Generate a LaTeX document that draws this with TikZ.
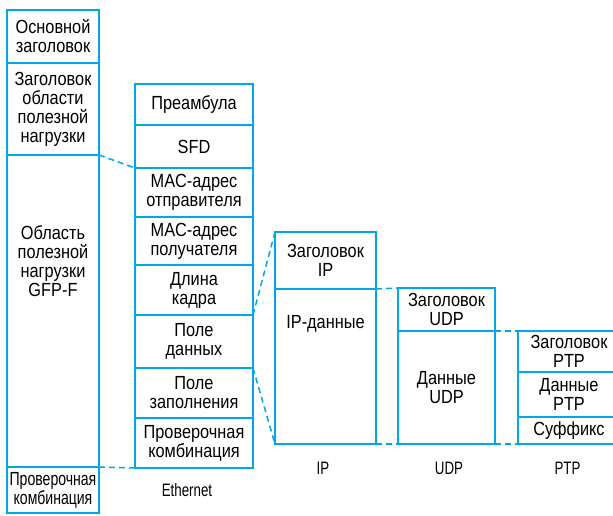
\documentclass[tikz,border=0pt]{standalone}
\usepackage{fontspec}
\setmainfont[FakeStretch=0.86]{Liberation Sans}
\newfontfamily\narrowfont[FakeStretch=0.74]{Liberation Sans}
\usetikzlibrary{positioning}
\definecolor{framecyan}{RGB}{0,168,232}

\begin{document}
\begin{tikzpicture}[
    x=1pt, y=1pt, font=\fontsize{19}{19}\selectfont,
    field/.style ={draw=framecyan, line width=1.7pt, outer sep=0pt, inner sep=0pt, align=center, anchor=north},
    gfp/.style   ={field, minimum width=92pt},
    eth/.style   ={field, minimum width=118pt},
    ipf/.style   ={field, minimum width=101pt},
    udpf/.style  ={field, minimum width=97pt},
    ptpf/.style  ={field, minimum width=102pt},
    caption/.style={inner sep=0pt, font=\fontsize{18}{18}\narrowfont},
    link/.style  ={draw=framecyan, line width=1.5pt, dash pattern=on 6pt off 4pt}
]
\useasboundingbox (0,0) rectangle (613,-515);
\clip (0,0) rectangle (613,-515);

% GFP-F frame
\node (gfp_head)    [gfp, minimum height=53pt] at (53,-10) {Основной\\заголовок};
\node (gfp_plhead)  [gfp, minimum height=92pt, below=0pt of gfp_head] {Заголовок\\области\\полезной\\нагрузки};
\node (gfp_payload) [gfp, minimum height=312pt, below=0pt of gfp_plhead] {};
\node (gfp_payload_txt) [inner sep=0pt, align=center, below=70pt of gfp_payload.north] {Область\\полезной\\нагрузки\\GFP-F};
\node (gfp_fcs)     [gfp, minimum height=46pt, below=0pt of gfp_payload] {\narrowfont Проверочная\\\narrowfont комбинация};

% Ethernet frame
\node (eth_pre)  [eth, minimum height=41pt] at (194,-84) {Преамбула};
\node (eth_sfd)  [eth, minimum height=43pt, below=0pt of eth_pre] {SFD};
\node (eth_src)  [eth, minimum height=49pt, below=0pt of eth_sfd] {MAC-адрес\\отправителя};
\node (eth_dst)  [eth, minimum height=48pt, below=0pt of eth_src] {MAC-адрес\\получателя};
\node (eth_len)  [eth, minimum height=50pt, below=0pt of eth_dst] {Длина\\кадра};
\node (eth_data) [eth, minimum height=53pt, below=0pt of eth_len] {Поле\\данных};
\node (eth_pad)  [eth, minimum height=50pt, below=0pt of eth_data] {Поле\\заполнения};
\node (eth_fcs)  [eth, minimum height=50pt, below=0pt of eth_pad] {Проверочная\\комбинация};
\node (eth_lbl)  [caption] at (187,-490) {Ethernet};

% IP packet
\node (ip_head) [ipf, minimum height=57pt] at (325.5,-232) {Заголовок\\IP};
\node (ip_data) [ipf, minimum height=155pt, below=0pt of ip_head] {};
\node (ip_data_txt) [inner sep=0pt, below=26pt of ip_data.north] {IP-данные};
\node (ip_lbl)  [caption] at (323,-468) {IP};

% UDP datagram
\node (udp_head) [udpf, minimum height=43pt] at (446.5,-288) {Заголовок\\UDP};
\node (udp_data) [udpf, minimum height=113pt, below=0pt of udp_head] {Данные\\UDP};
\node (udp_lbl)  [caption] at (449,-468) {UDP};

% PTP message
\node (ptp_head) [ptpf, minimum height=41pt] at (569,-331) {Заголовок\\PTP};
\node (ptp_data) [ptpf, minimum height=45pt, below=0pt of ptp_head] {Данные\\PTP};
\node (ptp_suf)  [ptpf, minimum height=27pt, below=0pt of ptp_data] {Суффикс};
\node (ptp_lbl)  [caption] at (567.5,-468) {PTP};

% Encapsulation links
\draw[link] (gfp_plhead.south east) -- (eth_src.north west);
\draw[link] (gfp_fcs.north east) -- (eth_fcs.south west);
\draw[link] (eth_data.north east) -- (ip_head.north west);
\draw[link] (eth_data.south east) -- (ip_data.south west);
\draw[link] (ip_head.south east) -- (udp_head.north west);
\draw[link] (ip_data.south east) -- (udp_data.south west);
\draw[link] (udp_head.south east) -- (ptp_head.north west);
\draw[link] (udp_data.south east) -- (ptp_suf.south west);

\end{tikzpicture}
\end{document}
